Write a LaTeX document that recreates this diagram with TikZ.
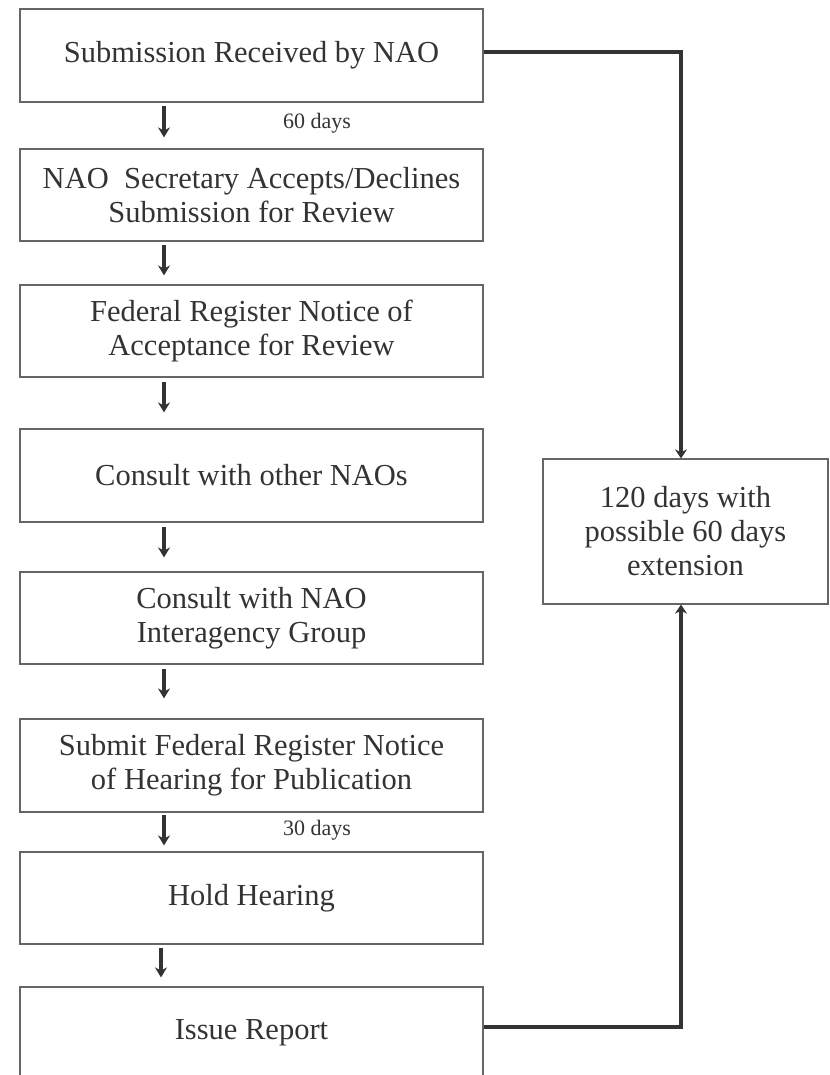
\documentclass[tikz,border=0pt]{standalone}
\usepackage{fontspec}
\setmainfont{Liberation Serif}
\usetikzlibrary{arrows.meta,calc}
\definecolor{txt}{HTML}{333333}
\definecolor{bx}{HTML}{666666}
\definecolor{ln}{HTML}{333333}
\begin{document}
\begin{tikzpicture}[x=1pt,y=-1pt,
  box/.style={draw=bx,line width=1.2pt,minimum width=463pt,inner sep=0pt,align=center,text=txt,font=\fontsize{30.5}{34}\selectfont},
  arr/.style={draw=ln,line width=3.2pt,-{Stealth[length=10pt,width=12pt]}},
  link/.style={draw=ln,line width=4pt,-{Stealth[length=9pt,width=12pt]}},
  lbl/.style={text=txt,font=\fontsize{22}{26}\selectfont,anchor=west,inner sep=0pt}]
\useasboundingbox (0,0) rectangle (829,1075);
\node[box,minimum height=93pt] (b1) at (251.5,55.5) {Submission Received by NAO};
\node[box,minimum height=92pt] (b2) at (251.5,195) {NAO\ \ Secretary Accepts/Declines\\Submission for Review};
\node[box,minimum height=92pt] (b3) at (251.5,331) {Federal Register Notice of\\Acceptance for Review};
\node[box,minimum height=93pt] (b4) at (251.5,475.5) {Consult with other NAOs};
\node[box,minimum height=92pt] (b5) at (251.5,618) {Consult with NAO\\Interagency Group};
\node[box,minimum height=93pt] (b6) at (251.5,765.5) {Submit Federal Register Notice\\of Hearing for Publication};
\node[box,minimum height=92pt] (b7) at (251.5,898) {Hold Hearing};
\node[box,minimum height=92pt] (b8) at (251.5,1033) {Issue Report};
\node[box,minimum width=285pt,minimum height=145pt] (rb) at (685.5,531.5) {120 days with\\possible 60 days\\extension};
\node[lbl] (l60) at (283,123) {60 days};
\node[lbl] (l30) at (283,830) {30 days};
\coordinate (ax) at (164,0);
\coordinate (ay) at (161,0);
\coordinate (rx) at (681,0);
\draw[arr,shorten <=3pt,shorten >=11pt] (b1.south -| ax) -- (b2.north -| ax);
\draw[arr,shorten <=3pt,shorten >=9pt] (b2.south -| ax) -- (b3.north -| ax);
\draw[arr,shorten <=4pt,shorten >=16pt] (b3.south -| ax) -- (b4.north -| ax);
\draw[arr,shorten <=4pt,shorten >=14pt] (b4.south -| ax) -- (b5.north -| ax);
\draw[arr,shorten <=4pt,shorten >=20pt] (b5.south -| ax) -- (b6.north -| ax);
\draw[arr,shorten <=2pt,shorten >=6pt] (b6.south -| ax) -- (b7.north -| ax);
\draw[arr,shorten <=3pt,shorten >=9pt] (b7.south -| ay) -- (b8.north -| ay);
\draw[link] ($(b1.east)+(0,-3.5)$) -| (rb.north -| rx);
\draw[link] ($(b8.east)+(0,-6)$) -| (rb.south -| rx);
\end{tikzpicture}
\end{document}
